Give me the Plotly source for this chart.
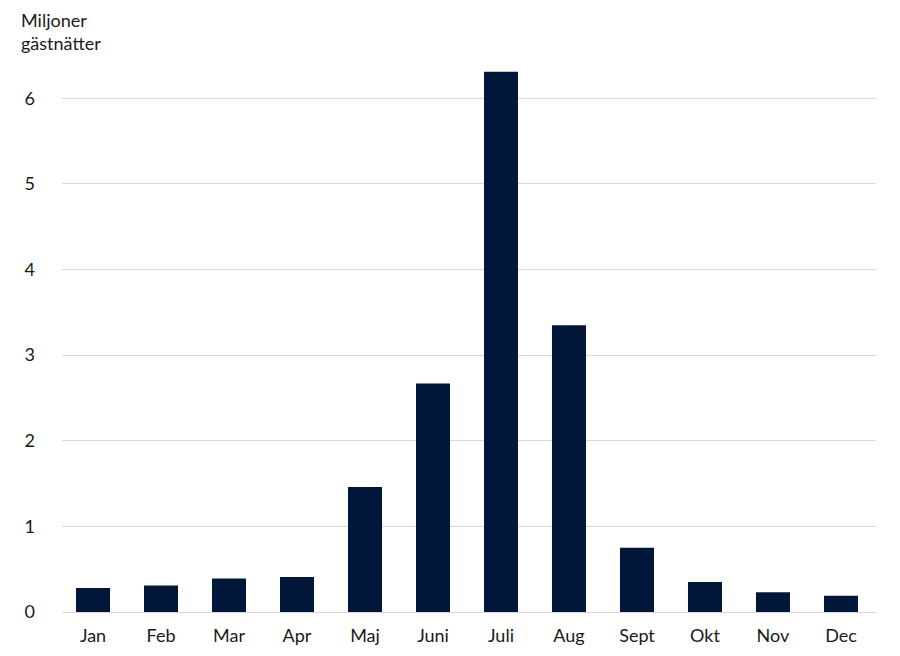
import plotly.graph_objects as go

months = ["Jan", "Feb", "Mar", "Apr", "Maj", "Juni", "Juli", "Aug", "Sept", "Okt", "Nov", "Dec"]
values = [0.28, 0.31, 0.39, 0.41, 1.46, 2.67, 6.31, 3.35, 0.75, 0.35, 0.23, 0.19]
y_ticks = [0, 1, 2, 3, 4, 5, 6]

fig = go.Figure(go.Bar(x=months, y=values, marker=dict(color="#001739", line=dict(width=0)), width=0.5))

font = "Lato, 'Noto Sans', sans-serif"
L, R, T, B = 54, 32, 56, 52
fig.update_layout(
    width=900, height=656,
    margin=dict(l=L, r=R, t=T, b=B),
    plot_bgcolor="white", paper_bgcolor="white",
    showlegend=False,
    font=dict(family=font, size=18, color="#1a1a1a"),
    xaxis=dict(range=[-0.456, 11.515], showgrid=False, ticks="", showline=False,
               ticklabelstandoff=11, tickfont=dict(size=18)),
    yaxis=dict(range=[0, 6.4], tickvals=y_ticks, showgrid=True, gridcolor="#d9d9d9", gridwidth=1,
               zeroline=True, zerolinecolor="#d9d9d9", zerolinewidth=1,
               ticks="", ticklabelstandoff=26, tickfont=dict(size=18)),
    annotations=[dict(text="Miljoner<br>gästnätter", xref="paper", yref="paper",
                      x=(11 - L) / (900 - L - R), y=1.0, xanchor="left", yanchor="bottom",
                      showarrow=False, align="left", yshift=8,
                      font=dict(size=18, color="#1a1a1a"))],
)
fig.write_html("out.html")
